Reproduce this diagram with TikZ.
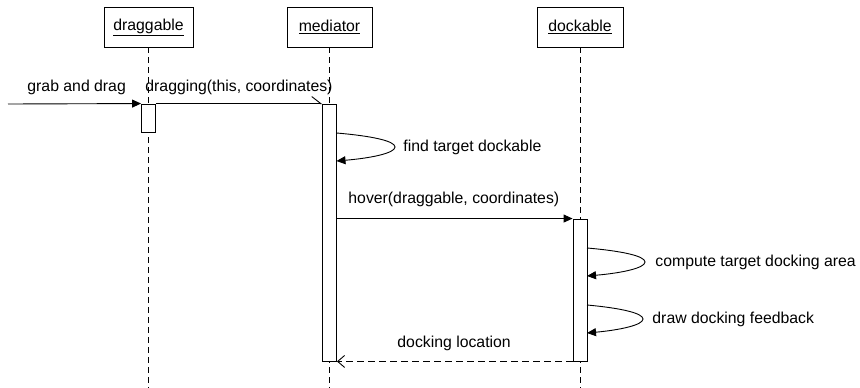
\documentclass[tikz,border=0pt]{standalone}
\usepackage{fontspec}
\setmainfont{Liberation Sans}
\usetikzlibrary{arrows.meta}

\begin{document}
\begin{tikzpicture}[x=1pt,y=-1pt,line width=0.9pt,font=\fontsize{15.8}{19}\selectfont]
        \tikzstyle{every node}=[inner sep=0pt]
        \tikzstyle{head}=[draw,rectangle,minimum height=40pt]
        \tikzstyle{life}=[dash pattern=on 6pt off 4pt]
        \tikzstyle{act}=[draw,rectangle,fill=white,minimum width=14pt]
        \tikzstyle{call}=[-{Triangle[length=9pt,width=8pt]}]
        \tikzstyle{async}=[-{Straight Barb[left,length=9pt,width=14pt]}]
        \tikzstyle{reply}=[dash pattern=on 7pt off 4pt,-{Straight Barb[length=7pt,width=12pt]}]
        \tikzstyle{lbl}=[anchor=base west]
        \useasboundingbox (0,0) rectangle (860,388);
        % lifeline heads
        \node[head,minimum width=89pt] (dragHead) at (148.5,27) {\underline{draggable}};
        \node[head,minimum width=85pt] (medHead) at (329.5,27) {\underline{mediator}};
        \node[head,minimum width=86pt] (dockHead) at (580,27) {\underline{dockable}};
        % lifelines
        \draw[life] (dragHead.south) -- (dragHead.south |- 0,388);
        \draw[life] (medHead.south) -- (medHead.south |- 0,388);
        \draw[life] (dockHead.south) -- (dockHead.south |- 0,388);
        % activations
        \node[act,minimum height=28pt] (dragAct) at (148.5,118) {};
        \node[act,minimum height=257pt] (medAct) at (329.5,232.5) {};
        \node[act,minimum height=142pt] (dockAct) at (580,290) {};
        % messages
        \coordinate (user) at (8,104);
        \draw[call] (user) -- (dragAct.north west);
        \node[lbl] (grabLbl) at (27,91) {grab and drag};
        \draw[async] (dragAct.north east) -- (medAct.north west);
        \node[lbl] (draggingLbl) at (145,91) {dragging(this, coordinates)};
        \coordinate (findA) at (336.5,133);
        \coordinate (findT) at (395,147);
        \coordinate (findB) at (336.5,161);
        \draw[call] (findA) .. controls (372,136) and (395,141) .. (findT)
            .. controls (395,153) and (372,158) .. (findB);
        \node[lbl] (findLbl) at (403,151) {find target dockable};
        \draw[call] (medAct.east |- dockAct.north west) -- (dockAct.north west);
        \node[lbl] (hoverLbl) at (348,203) {hover(draggable, coordinates)};
        \coordinate (compA) at (587,248);
        \coordinate (compT) at (645,262);
        \coordinate (compB) at (587,276);
        \draw[call] (compA) .. controls (622,251) and (645,256) .. (compT)
            .. controls (645,268) and (622,273) .. (compB);
        \node[lbl] (compLbl) at (655,266) {compute target docking area};
        \coordinate (drawA) at (587,305);
        \coordinate (drawT) at (643,319);
        \coordinate (drawB) at (587,333);
        \draw[call] (drawA) .. controls (620,308) and (643,313) .. (drawT)
            .. controls (643,325) and (620,330) .. (drawB);
        \node[lbl] (drawLbl) at (652,323) {draw docking feedback};
        \draw[reply] (dockAct.south west) -- (medAct.south east);
        \node[lbl] (dockLbl) at (397,347) {docking location};
    \end{tikzpicture}
\end{document}
